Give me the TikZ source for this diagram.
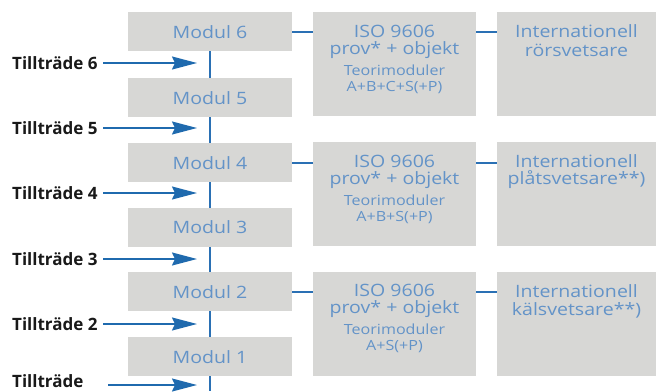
\documentclass[tikz,border=0pt]{standalone}
\usepackage{fontspec}
\setmainfont{Open Sans}
\newfontfamily\boxfont[FakeStretch=1.15]{Open Sans}
\usetikzlibrary{arrows.meta,calc}
\definecolor{boxgray}{HTML}{D7D7D5}
\definecolor{txtblue}{HTML}{6393C8}
\definecolor{linkblue}{HTML}{2A70B4}
\definecolor{arrblue}{HTML}{1F6AAE}
\begin{document}
\begin{tikzpicture}[x=1pt,y=-1pt,
  modbox/.style={fill=boxgray,draw=none,minimum width=164pt,minimum height=39pt,inner sep=0pt,anchor=north,
    font=\boxfont\fontsize{17}{20}\selectfont,text=txtblue},
  isobox/.style={fill=boxgray,draw=none,minimum width=163pt,minimum height=104pt,inner sep=0pt,anchor=north},
  intbox/.style={fill=boxgray,draw=none,minimum width=159pt,minimum height=104pt,inner sep=0pt,anchor=north},
  bigtxt/.style={font=\boxfont\fontsize{17}{20}\selectfont,text=txtblue,inner sep=0pt},
  smalltxt/.style={font=\boxfont\fontsize{14}{16}\selectfont,text=txtblue,inner sep=0pt},
  tlabel/.style={font=\bfseries\fontsize{17}{20}\selectfont,text=black!90,inner sep=0pt,anchor=west},
  arr/.style={draw=arrblue,line width=1.6pt,-{Stealth[length=25pt,width=13pt,inset=3pt]}},
  vline/.style={draw=linkblue,line width=2pt},
  hline/.style={draw=linkblue,line width=1.8pt}]
\useasboundingbox (0,0) rectangle (658,391);
% module boxes
\node[modbox] (m6) at (210,12) {Modul 6};
\node[modbox] (m5) at (210,78) {Modul 5};
\node[modbox] (m4) at (210,143) {Modul 4};
\node[modbox] (m3) at (210,207.5) {Modul 3};
\node[modbox] (m2) at (210,272) {Modul 2};
\node[modbox] (m1) at (210,337) {Modul 1};
\coordinate (bot) at (210,391);
% ISO boxes
\node[isobox] (iso6) at (394.5,12) {};
\node[isobox] (iso4) at (394.5,142) {};
\node[isobox] (iso2) at (394.5,272) {};
% result boxes
\node[intbox] (int6) at (576.5,12) {};
\node[intbox] (int4) at (576.5,142) {};
\node[intbox] (int2) at (576.5,272) {};
% texts in ISO boxes
\node[bigtxt] (i6a) at ($(iso6.north)+(0,19)$) {ISO 9606};
\node[bigtxt] (i6b) at ($(iso6.north)+(0,38)$) {prov* + objekt};
\node[smalltxt] (i6c) at ($(iso6.north)+(0,58)$) {Teorimoduler};
\node[smalltxt] (i6d) at ($(iso6.north)+(0,76)$) {A+B+C+S(+P)};
\node[bigtxt] (i4a) at ($(iso4.north)+(0,19)$) {ISO 9606};
\node[bigtxt] (i4b) at ($(iso4.north)+(0,38)$) {prov* + objekt};
\node[smalltxt] (i4c) at ($(iso4.north)+(0,58)$) {Teorimoduler};
\node[smalltxt] (i4d) at ($(iso4.north)+(0,76)$) {A+B+S(+P)};
\node[bigtxt] (i2a) at ($(iso2.north)+(0,18)$) {ISO 9606};
\node[bigtxt] (i2b) at ($(iso2.north)+(0,37)$) {prov* + objekt};
\node[smalltxt] (i2c) at ($(iso2.north)+(0,57)$) {Teorimoduler};
\node[smalltxt] (i2d) at ($(iso2.north)+(0,75)$) {A+S(+P)};
% texts in result boxes
\node[bigtxt] (r6a) at ($(int6.north)+(0,19)$) {Internationell};
\node[bigtxt] (r6b) at ($(int6.north)+(0,38)$) {rörsvetsare};
\node[bigtxt] (r4a) at ($(int4.north)+(0,19)$) {Internationell};
\node[bigtxt] (r4b) at ($(int4.north)+(0,38)$) {plåtsvetsare**)};
\node[bigtxt] (r2a) at ($(int2.north)+(0,19)$) {Internationell};
\node[bigtxt] (r2b) at ($(int2.north)+(0,38)$) {kälsvetsare**)};
% vertical line
\draw[vline] (m6.south) -- (m5.north);
\draw[vline] (m5.south) -- (m4.north);
\draw[vline] (m4.south) -- (m3.north);
\draw[vline] (m3.south) -- (m2.north);
\draw[vline] (m2.south) -- (m1.north);
\draw[vline] (m1.south) -- (bot);
% horizontal connectors
\draw[hline] (m6.east) -- (m6.east -| iso6.west);
\draw[hline] (m6.east -| iso6.east) -- (m6.east -| int6.west);
\draw[hline] (m4.east) -- (m4.east -| iso4.west);
\draw[hline] (m4.east -| iso4.east) -- (m4.east -| int4.west);
\draw[hline] (m2.east) -- (m2.east -| iso2.west);
\draw[hline] (m2.east -| iso2.east) -- (m2.east -| int2.west);
% entry labels and arrows
\node[tlabel] (t6) at (12,63) {Tillträde 6};
\node[tlabel] (t5) at (12,128) {Tillträde 5};
\node[tlabel] (t4) at (12,193) {Tillträde 4};
\node[tlabel] (t3) at (12,259) {Tillträde 3};
\node[tlabel] (t2) at (12,324) {Tillträde 2};
\node[tlabel] (t1) at (12,381) {Tillträde};
\foreach \n/\y/\s in {6/63/103,5/128/103,4/193/103,3/259/103,2/324/103,1/385/108}{
  \coordinate (s\n) at (\s,\y);
  \coordinate (e\n) at (197,\y);
  \draw[arr] (s\n) -- (e\n);
}
\end{tikzpicture}
\end{document}
